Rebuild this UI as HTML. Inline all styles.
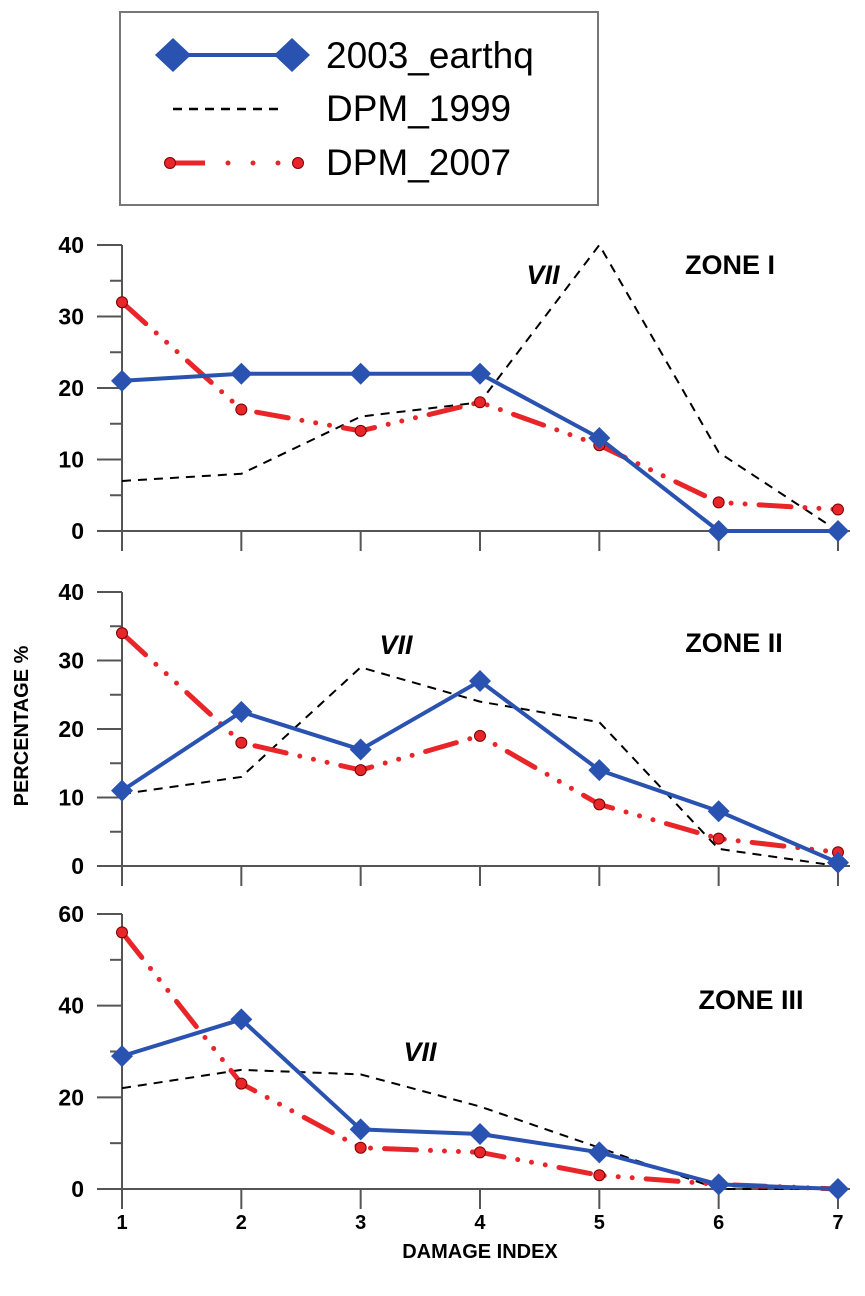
<!DOCTYPE html>
<html><head><meta charset="utf-8"><style>
body{margin:0;background:#fff}
svg{display:block;font-family:"Liberation Sans",Arial,sans-serif}
</style></head><body>
<svg id="chart" width="865" height="1296" viewBox="0 0 865 1296" xmlns="http://www.w3.org/2000/svg">
<g>
<rect x="120" y="12" width="478" height="193" fill="#fff" stroke="#777" stroke-width="2"/>
<line x1="173" y1="55" x2="292" y2="55" stroke="#2a52b0" stroke-width="4"/>
<path d="M173 38 L191 55 L173 72 L155 55Z" fill="#2a52b0"/>
<path d="M292 38 L310 55 L292 72 L274 55Z" fill="#2a52b0"/>
<text x="326" y="68" font-size="37">2003_earthq</text>
<line x1="173" y1="109" x2="282" y2="109" stroke="#000" stroke-width="2.5" stroke-dasharray="9 7"/>
<text x="326" y="121" font-size="37">DPM_1999</text>
<line x1="170" y1="163" x2="205" y2="163" stroke="#e8262a" stroke-width="5"/>
<circle cx="228" cy="163" r="2.5" fill="#e8262a"/><circle cx="253" cy="163" r="2.5" fill="#e8262a"/><circle cx="278" cy="163" r="2.5" fill="#e8262a"/>
<circle cx="170" cy="163" r="5.5" fill="#e8262a" stroke="#700" stroke-width="1"/>
<circle cx="298" cy="163" r="5.5" fill="#e8262a" stroke="#700" stroke-width="1"/>
<text x="326" y="175" font-size="37">DPM_2007</text>
</g>
<g id="plots"></g>
<text x="28" y="726" font-size="20" font-weight="bold" transform="rotate(-90 28 726)" text-anchor="middle">PERCENTAGE %</text>
<text x="480" y="1258" font-size="20" font-weight="bold" text-anchor="middle">DAMAGE INDEX</text>
</svg>
<script>
const categories=[1,2,3,4,5,6,7];
const zoneNames=["ZONE I","ZONE II","ZONE III"];
const earthq1=[21,22,22,22,13,0,0];
const dpm1999_1=[7,8,16,18,40,11,0];
const dpm2007_1=[32,17,14,18,12,4,3];
const earthq2=[11,22.5,17,27,14,8,0.5];
const dpm1999_2=[10.5,13,29,24,21,2.5,0];
const dpm2007_2=[34,18,14,19,9,4,2];
const earthq3=[29,37,13,12,8,1,0];
const dpm1999_3=[22,26,25,18,9,0,0];
const dpm2007_3=[56,23,9,8,3,1,0];
const yTicks1=[0,10,20,30,40];
const yTicks2=[0,10,20,30,40];
const yTicks3=[0,20,40,60];
const NS="http://www.w3.org/2000/svg";
const root=document.getElementById('plots');
function mk(tag,attrs,parent){const e=document.createElementNS(NS,tag);for(const k in attrs)e.setAttribute(k,attrs[k]);(parent||root).appendChild(e);return e;}
const x=i=>122+(categories[i]-1)*119.33;
const panels=[
 {y0:531,ymax:40,ytop:245,ticks:yTicks1,minor:5,e:earthq1,d9:dpm1999_1,d7:dpm2007_1,zone:[730,265],vii:[543,275]},
 {y0:866,ymax:40,ytop:592,ticks:yTicks2,minor:5,e:earthq2,d9:dpm1999_2,d7:dpm2007_2,zone:[734,643],vii:[396,645]},
 {y0:1189,ymax:60,ytop:914,ticks:yTicks3,minor:10,e:earthq3,d9:dpm1999_3,d7:dpm2007_3,zone:[751,1000],vii:[420,1052]}
];
panels.forEach((p,pi)=>{
 const g=mk('g',{});
 
 
 const y=v=>p.y0-(v/p.ymax)*(p.y0-p.ytop);
 const ax='#555';
 const yl=mk('line',{x1:122,y1:p.ytop,x2:122,y2:p.y0+20,stroke:ax,'stroke-width':2},g);
 
 const xl=mk('line',{x1:97,y1:p.y0,x2:850,y2:p.y0,stroke:ax,'stroke-width':2},g);
 
 categories.forEach((c,i)=>{mk('line',{x1:x(i),y1:p.y0,x2:x(i),y2:p.y0+20,stroke:ax,'stroke-width':2},g);});
 for(let v=0;v<=p.ymax;v+=p.minor){const major=p.ticks.includes(v);mk('line',{x1:major?97:110,y1:y(v),x2:122,y2:y(v),stroke:ax,'stroke-width':2},g);}
 p.ticks.forEach(v=>{const t=mk('text',{x:84,y:y(v)+8,'font-size':23,'font-weight':'bold','text-anchor':'end'},g);t.textContent=v;
  });
 const z=mk('text',{x:p.zone[0],y:p.zone[1]+9,'font-size':27,'font-weight':'bold','text-anchor':'middle'},g);z.textContent=zoneNames[pi];
 
 const vii=mk('text',{x:p.vii[0],y:p.vii[1]+9,'font-size':27,'font-weight':'bold','font-style':'italic','text-anchor':'middle'},g);vii.textContent='VII';
 
 const pts=a=>a.map((v,i)=>x(i)+','+y(v)).join(' ');
 const l9=mk('polyline',{points:pts(p.d9),fill:'none',stroke:'#000','stroke-width':2,'stroke-dasharray':'9 7'},g);
 
 const l7=mk('polyline',{points:pts(p.d7),fill:'none',stroke:'#e8262a','stroke-width':5,'stroke-dasharray':'32 14 0 14 0 14 0 14','stroke-linecap':'round'},g);
 
 p.d7.forEach((v,i)=>{const c=mk('circle',{cx:x(i),cy:y(v),r:5.5,fill:'#e8262a',stroke:'#700','stroke-width':1},g);
  });
 const le=mk('polyline',{points:pts(p.e),fill:'none',stroke:'#2a52b0','stroke-width':4},g);
 
 p.e.forEach((v,i)=>{const cx=x(i),cy=y(v);const d=mk('path',{d:`M${cx} ${cy-11}L${cx+11} ${cy}L${cx} ${cy+11}L${cx-11} ${cy}Z`,fill:'#2a52b0'},g);
  });
});
categories.forEach((c,i)=>{const t=mk('text',{x:x(i),y:1229,'font-size':20,'font-weight':'bold','text-anchor':'middle'});t.textContent=c;
 });
</script>
</body></html>
